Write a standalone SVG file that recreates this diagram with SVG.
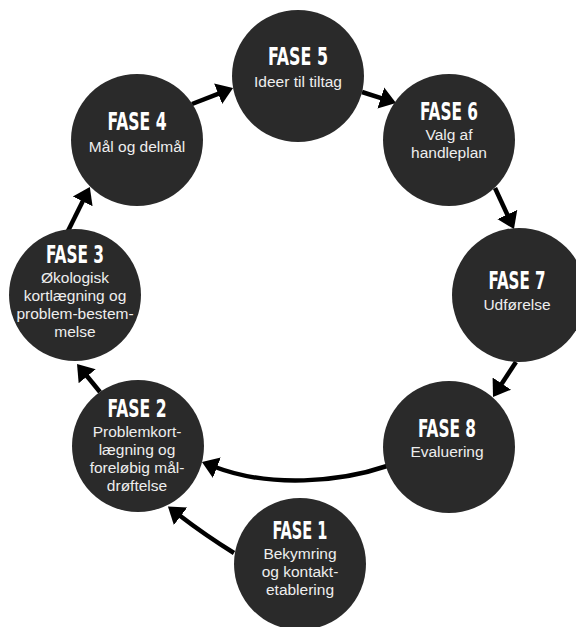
<svg xmlns="http://www.w3.org/2000/svg" width="576" height="627" viewBox="0 0 576 627">
<style>
.c{fill:#2a2a2a}
.h{font-family:"DejaVu Sans Condensed","DejaVu Sans","Liberation Sans",sans-serif;font-weight:bold;font-size:25px;fill:#ffffff;text-anchor:middle}
.s{font-family:"Liberation Sans",Arial,sans-serif;font-size:15.5px;fill:#eeeeee;text-anchor:middle}
.a{fill:none;stroke:#000;stroke-width:4.5;marker-end:url(#ah)}
</style>
<defs>
<marker id="ah" markerUnits="userSpaceOnUse" markerWidth="20" markerHeight="24" viewBox="0 -12 20 24" refX="2" refY="0" orient="auto">
<path d="M0,-11 L16,0 L0,11 z" fill="#000"/>
</marker>
</defs>
<rect width="576" height="627" fill="#fff"/>
<g id="connectors">
<path class="a" d="M192,104 L220,93.1"/>
<path class="a" d="M362,92 L382.7,98.7"/>
<path class="a" d="M495,188 L508.1,216.3"/>
<path class="a" d="M516,362 L500.7,385.3"/>
<path class="a" d="M387,466 C340,482 270,488 215,467"/>
<path class="a" d="M234,553 Q205,535 179,515"/>
<path class="a" d="M100,392 L85.9,374.8"/>
<path class="a" d="M68,231 L83.6,199.5"/>
</g>
<g id="fase5">
<circle class="c" cx="298" cy="76" r="66"/>
<text class="h" x="298" y="65" textLength="60" lengthAdjust="spacingAndGlyphs">FASE 5</text>
<text class="s" x="298" y="87">Ideer til tiltag</text>
</g>
<g id="fase4">
<circle class="c" cx="137" cy="140" r="66"/>
<text class="h" x="137" y="130" textLength="59" lengthAdjust="spacingAndGlyphs">FASE 4</text>
<text class="s" x="137" y="152">Mål og delmål</text>
</g>
<g id="fase6">
<circle class="c" cx="449" cy="140" r="66"/>
<text class="h" x="449" y="120" textLength="58" lengthAdjust="spacingAndGlyphs">FASE 6</text>
<text class="s" x="449" y="140">Valg af</text>
<text class="s" x="449" y="158">handleplan</text>
</g>
<g id="fase3">
<circle class="c" cx="75" cy="295" r="66"/>
<text class="h" x="75" y="263" textLength="58" lengthAdjust="spacingAndGlyphs">FASE 3</text>
<text class="s" x="75" y="283">Økologisk</text>
<text class="s" x="75" y="301">kortlægning og</text>
<text class="s" x="75" y="319">problem-bestem-</text>
<text class="s" x="75" y="337">melse</text>
</g>
<g id="fase7">
<circle class="c" cx="519" cy="295" r="67"/>
<text class="h" x="517" y="289" textLength="57" lengthAdjust="spacingAndGlyphs">FASE 7</text>
<text class="s" x="517" y="310">Udførelse</text>
</g>
<g id="fase8">
<circle class="c" cx="449" cy="447" r="66"/>
<text class="h" x="447" y="437" textLength="58" lengthAdjust="spacingAndGlyphs">FASE 8</text>
<text class="s" x="447" y="457">Evaluering</text>
</g>
<g id="fase2">
<circle class="c" cx="138" cy="446" r="66"/>
<text class="h" x="137" y="417" textLength="59" lengthAdjust="spacingAndGlyphs">FASE 2</text>
<text class="s" x="137" y="437">Problemkort-</text>
<text class="s" x="137" y="455">lægning og</text>
<text class="s" x="137" y="473">foreløbig mål-</text>
<text class="s" x="137" y="491">drøftelse</text>
</g>
<g id="fase1">
<circle class="c" cx="300" cy="564" r="66"/>
<text class="h" x="300" y="539" textLength="55" lengthAdjust="spacingAndGlyphs">FASE 1</text>
<text class="s" x="300" y="559">Bekymring</text>
<text class="s" x="300" y="577">og kontakt-</text>
<text class="s" x="300" y="595">etablering</text>
</g>
</svg>
